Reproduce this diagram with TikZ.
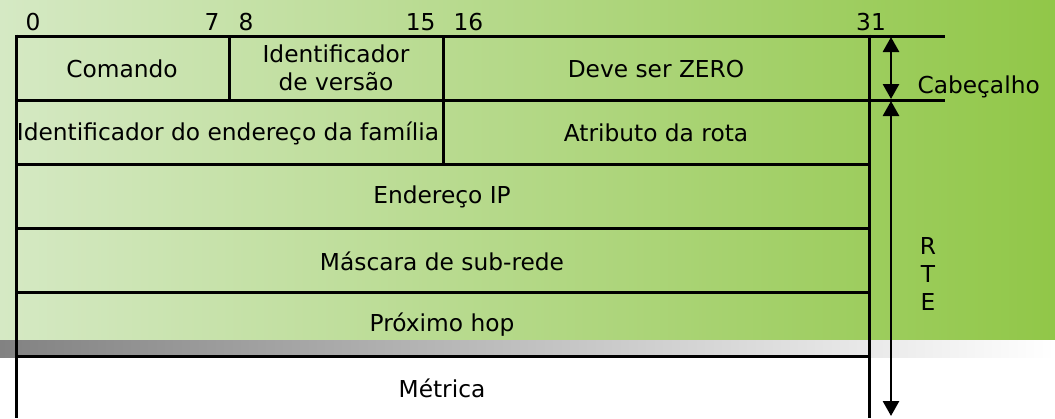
\documentclass[tikz,border=0pt]{standalone}
\usepackage{fontspec}
\setmainfont{DejaVu Sans}
\usetikzlibrary{arrows.meta}
\definecolor{gleft}{RGB}{213,233,196}
\definecolor{gright}{RGB}{145,199,72}
\definecolor{grayleft}{RGB}{130,130,130}
\begin{document}
\begin{tikzpicture}[x=1pt,y=-1pt,line width=3pt,
  txt/.style={font=\fontsize{23.3}{28}\selectfont,inner sep=0pt,align=center},
  dimarrow/.style={line width=2.8pt,{Triangle[width=16pt,length=15pt]}-{Triangle[width=16pt,length=15pt]}}]
\useasboundingbox (0,0) rectangle (1055,418);
\shade[left color=gleft,right color=gright] (0,0) rectangle (1055,340);
\shade[left color=grayleft,right color=white] (0,340) rectangle (1055,357);
% grid
\draw (16,36) -- (945,36);
\draw (16,100) -- (945,100);
\draw (16,164) -- (869,164);
\draw (16,228) -- (869,228);
\draw (16,292) -- (869,292);
\draw (16,356) -- (869,356);
\draw (16,34.5) -- (16,418);
\draw (869,34.5) -- (869,418);
\draw (229,36) -- (229,100);
\draw (443,36) -- (443,164);
% bit numbers
\node[txt,anchor=west] (b0) at (24,22) {0};
\node[txt,anchor=east] (b7) at (221,22) {7};
\node[txt,anchor=west] (b8) at (237,22) {8};
\node[txt,anchor=east] (b15) at (437,22) {15};
\node[txt,anchor=west] (b16) at (452,22) {16};
\node[txt] (b31) at (871,22) {31};
% fields
\node[txt] (cmd) at (122,69) {Comando};
\node[txt] (ver) at (336,68) {Identificador\\de versão};
\node[txt] (zero) at (656,69) {Deve ser ZERO};
\node[txt] (fam) at (228,133) {Identificador do endereço da família};
\node[txt] (rota) at (656,133) {Atributo da rota};
\node[txt] (ip) at (442,197) {Endereço IP};
\node[txt] (mask) at (442,261) {Máscara de sub-rede};
\node[txt] (hop) at (442,325) {Próximo hop};
\node[txt] (met) at (442,388) {Métrica};
% labels
\node[txt,anchor=west] (cab) at (916,87) {Cabeçalho};
\node[txt] (rte) at (928,274) {R\\T\\E};
% arrows
\coordinate (h1) at (891,37);
\coordinate (h2) at (891,99);
\coordinate (r1) at (891,101);
\coordinate (r2) at (891,416);
\draw[dimarrow] (h1) -- (h2);
\draw[dimarrow] (r1) -- (r2);
\end{tikzpicture}
\end{document}
